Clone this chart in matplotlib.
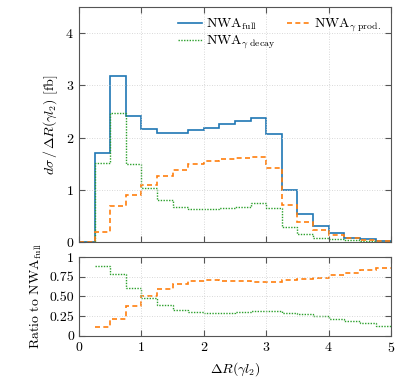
import numpy as np
import matplotlib
matplotlib.use("Agg")
import matplotlib.pyplot as plt

plt.rcParams['font.family'] = 'serif'
plt.rcParams['font.serif'] = ['cmr10', 'DejaVu Serif']
plt.rcParams['mathtext.fontset'] = 'cm'
plt.rcParams['axes.formatter.use_mathtext'] = True
plt.rcParams['font.size'] = 10

# bin edges in Delta R(gamma l2)
edges = np.arange(0, 5.01, 0.25)

nwa_full = [0.0, 1.71, 3.17, 2.42, 2.16, 2.08, 2.08, 2.14, 2.19, 2.25,
            2.31, 2.37, 2.07, 0.99, 0.54, 0.30, 0.17, 0.08, 0.05, 0.02]
nwa_prod = [0.0, 0.20, 0.69, 0.91, 1.10, 1.27, 1.38, 1.49, 1.55, 1.58,
            1.61, 1.63, 1.42, 0.70, 0.39, 0.23, 0.13, 0.07, 0.04, 0.02]
nwa_decay = [0.0, 1.51, 2.47, 1.49, 1.04, 0.80, 0.68, 0.63, 0.63, 0.65,
             0.68, 0.74, 0.65, 0.28, 0.15, 0.08, 0.05, 0.03, 0.02, 0.01]

# ratios to NWA_full (from 0.25 on)
ratio_prod = [0.115, 0.22, 0.38, 0.51, 0.60, 0.66, 0.69, 0.71, 0.70,
              0.69, 0.68, 0.68, 0.71, 0.72, 0.74, 0.77, 0.80, 0.84, 0.86]
ratio_decay = [0.88, 0.78, 0.61, 0.48, 0.39, 0.33, 0.30, 0.29, 0.29,
               0.30, 0.31, 0.31, 0.29, 0.28, 0.25, 0.22, 0.19, 0.16, 0.13]

blue = '#1f77b4'
orange = '#ff7f0e'
green = '#2ca02c'

fig = plt.figure(figsize=(4.07, 3.83), dpi=100)
ax1 = fig.add_axes([0.194, 0.368, 0.767, 0.614])
ax2 = fig.add_axes([0.194, 0.123, 0.767, 0.206])

ax1.stairs(nwa_full, edges, color=blue, lw=1.2, label=r'NWA$_{\rm full}$')
ax1.stairs(nwa_decay, edges, color=green, lw=1.0, ls=(0, (1, 1)),
           label=r'NWA$_{\gamma\ \rm decay}$')
ax1.stairs(nwa_prod, edges, color=orange, lw=1.2, ls=(0, (3, 2)),
           label=r'NWA$_{\gamma\ \rm prod.}$')

ax2.stairs(ratio_prod, edges[1:], baseline=None, color=orange, lw=1.2,
           ls=(0, (3, 2)))
ax2.stairs(ratio_decay, edges[1:], baseline=None, color=green, lw=1.0,
           ls=(0, (1, 1)))

for ax in (ax1, ax2):
    ax.set_xlim(0, 5)
    ax.set_xticks([0, 1, 2, 3, 4, 5])
    ax.grid(True, ls=(0, (1, 2)), color='#cccccc', lw=0.6)
    ax.tick_params(direction='in', top=True, right=True, color='#555555', length=4)
    for s in ax.spines.values():
        s.set_color('#555555')

ax1.set_ylim(0, 4.5)
ax1.set_yticks([0, 1, 2, 3, 4])
ax1.tick_params(labelbottom=False)
ax1.set_ylabel(r'$d\sigma\,/\,\Delta R(\gamma l_2)$ [fb]')
ax1.legend(loc='upper right', ncol=2, frameon=False, handlelength=1.7,
           columnspacing=0.8, borderaxespad=0.3, handletextpad=0.3,
           labelspacing=0.15)

ax2.set_ylim(0, 1)
ax2.set_yticks([0, 0.25, 0.5, 0.75, 1])
ax2.set_yticklabels(['0', '0.25', '0.50', '0.75', '1'])
ax2.set_ylabel(r'Ratio to NWA$_{\rm full}$')
ax2.set_xlabel(r'$\Delta R(\gamma l_2)$')

fig.align_ylabels([ax1, ax2])
fig.savefig('out.png', dpi=100)
